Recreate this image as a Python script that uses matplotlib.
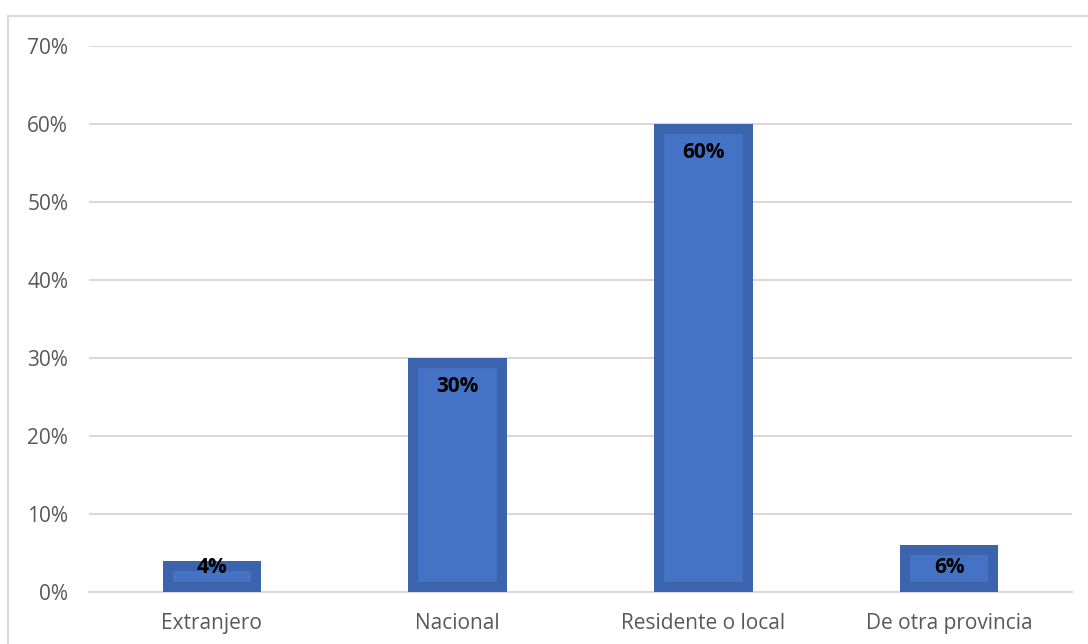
import matplotlib.pyplot as plt
from matplotlib.patches import Rectangle
from matplotlib.ticker import PercentFormatter

categorias = ['Extranjero', 'Nacional', 'Residente o local', 'De otra provincia']
valores = [0.04, 0.30, 0.60, 0.06]
etiquetas = ['4%', '30%', '60%', '6%']

plt.rcParams['font.family'] = ['Open Sans', 'DejaVu Sans']

fig = plt.figure(figsize=(10.88, 6.44), dpi=100)
ax = fig.add_axes([89 / 1088, 1 - 592 / 644, (1072 - 89) / 1088, (592 - 46) / 644])

# marco del gráfico
fig.patches.append(Rectangle((8 / 1088, -0.1), 1.2, 1 - 16 / 644 + 0.1,
                             transform=fig.transFigure, fill=False,
                             edgecolor='#D9D9D9', linewidth=1.5, clip_on=False))

x = range(len(categorias))
bars = ax.bar(x, valores, width=0.4, color='#4472C4', edgecolor='#3B63AE',
              linewidth=14.5, zorder=3)
for b in bars:
    b.set_clip_path(b)  # borde sólo hacia dentro

for xi, v, t in zip(x, valores, etiquetas):
    ytxt = max(v - 0.036, 0.032)
    ax.text(xi, ytxt, t, ha='center', va='center', fontsize=15,
            fontweight='bold', color='black', zorder=4)

ax.set_xlim(-0.5, len(categorias) - 0.5)
ax.set_ylim(0, 0.7)
ax.set_yticks([i / 10 for i in range(8)])
ax.yaxis.set_major_formatter(PercentFormatter(1.0, decimals=0))
ax.set_xticks(list(x))
ax.set_xticklabels(categorias)
ax.tick_params(axis='both', length=0, labelsize=15, labelcolor='#595959')
ax.tick_params(axis='y', pad=15)
ax.tick_params(axis='x', pad=15)

ax.grid(axis='y', color='#D9D9D9', linewidth=1.5, zorder=0)
for s in ['top', 'right', 'left']:
    ax.spines[s].set_visible(False)
ax.spines['bottom'].set_color('#D9D9D9')
ax.spines['bottom'].set_linewidth(1.5)

fig.savefig('out.png', dpi=100)
